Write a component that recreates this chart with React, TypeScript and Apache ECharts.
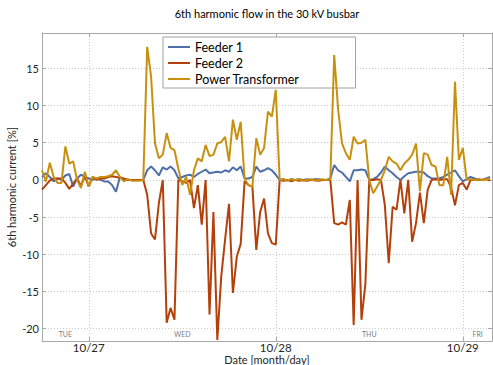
import React, { useEffect, useRef } from 'react';
import * as echarts from 'echarts';

// Hours relative to 10/27 00:00; samples every 30 minutes starting 10/26 18:00
const startHour = -6;
const stepHours = 0.5;

const feeder1 = [
  0.4, 0.9, 0.4, -0.2, 0.2, 0, 0.6, 0.8, -0.9, 0.2, 0.7, 0.4,
  0.2, 0, 0.2, 0, -0.2, -0.2, -0.7, -1.6, 0.4, 0.1, 0, 0,
  0, 0, 0, 1.3, 1.8, 1.3, 0.6, 1.7, 1.4, 1.8, 1.3, 0.2,
  0.4, 0.6, 0.7, 0.4, 0.8, 1.1, 1.4, 0.9, 1.0, 1.1, 1.0, 1.3,
  1.1, 1.7, 1.3, 1.8, 0.2, 0.2, 0.4, 1.8, 1.1, 1.3, 1.6, 1.3,
  0.7, 0, 0.1, -0.1, 0.1, 0, 0.1, 0, 0.1, 0, 0.1, 0.1,
  0, 0, 0.2, 2.0, 1.3, 1.0, 0.4, -0.2, 1.3, 1.3, 1.4, 1.3,
  0, 0.1, 0.4, 1.0, 1.8, 1.3, 0.9, 0.4, 0, 0.5, 0.9, 1.0,
  1.1, 1.1, 1.0, 0.5, 0.2, 0.2, 0.2, 0.4, 0.7, 1.0, 1.3, 0.5,
  -0.2, 0.1, 0.4, 0.2, 0, 0, 0.2, 0.4,
];

const feeder2 = [
  -1.3, -0.7, -0.1, 0.2, 0.2, 0.2, -0.4, -1.2, -0.5, 0.2, -0.8, 0.5,
  -0.9, 0.4, 0, 0.2, 0.2, 0.4, 0.5, 0.4, 0.3, 0.2, 0, 0,
  0, 0, 0, -2.0, -7.2, -8.0, -3.1, 0, -19.2, -17.2, -18.8, 0,
  -0.2, -0.4, 0, -3.8, -0.7, -6.0, 0, -18.1, -4.3, -21.5, -13, -8,
  -3.2, -15.2, -10.3, -8.6, -0.2, -0.7, -0.9, -9.4, -4.3, -2.5, -7.2, -8.5,
  -8.7, 0, -0.1, 0, -0.2, 0, -0.1, 0, -0.1, 0, 0, -0.1,
  0, 0, 0, -5.8, -6.0, -5.7, -6.0, -2.7, -19.5, 0, -18.8, -14,
  0, 0, 0.1, 0, -3.4, -11.2, -3.6, -4.0, 0, -4.5, 0, -8.3,
  -5.8, -1.7, -5.8, -1.3, 0, 0.1, 0, 0.1, 0.1, -1.0, -3.4, -0.7,
  -0.4, -1.3, 0, 0, 0.1, 0, 0.1, -0.1,
];

const transformer = [
  1.3, -0.2, 2.3, 0.4, -0.4, -0.4, 4.5, 2.2, 2.5, 0, -1.1, 1.1,
  -0.9, 0.4, 0.2, 0.4, 0.4, 0.5, 0.7, 1.3, 0.4, -0.2, 0.1, -0.1,
  -0.1, -0.1, 0, 17.9, 13.9, 4.9, 2.9, 3.4, 6.3, 4.3, 4.0, 1.5,
  -0.7, 0.4, -2.0, 1.3, 2.9, 2.5, 4.7, 3.2, 3.4, 4.9, 5.1, 5.8,
  2.5, 8.1, 5.4, 7.8, 0.2, -0.7, -0.9, 5.6, 3.4, 4.3, 9.2, 8.5,
  12.1, 0, 0.1, -0.1, 0.1, 0, 0.1, -0.1, 0, 0.1, -0.1, 0,
  0.1, 0, 0.1, 16.8, 9.5, 4.9, 3.6, 2.7, 5.8, 4.9, 5.0, 5.4,
  0, -1.8, -0.9, 0, 1.3, 3.1, 2.5, 2.2, 1.3, 2.2, 2.7, 3.4,
  4.9, -1.5, 3.6, 3.4, 2.0, 1.8, -0.7, -0.7, 3.1, -2.0, 13.2, 2.7,
  4.3, 0, 0.1, 0, 0.1, 0, 0.1, 0.2,
];

const seriesNames = ['Feeder 1', 'Feeder 2', 'Power Transformer'];
const seriesColors = ['#4f6fab', '#b4410c', '#c8900f'];

const dateTickHours = [0, 24, 48];
const dateTickLabels = ['10/27', '10/28', '10/29'];
const dayNames = ['TUE', 'WED', 'THU', 'FRI'];
const dayNameHours = [-3, 12, 36, 49.9];
const dayNameLevel = -20.75;
const yTicks = [-20, -15, -10, -5, 0, 5, 10, 15];

const xMin = -6;
const xMax = 51.75;
const yMin = -21.65;
const yMax = 19.75;

const FONT = 'Lato, "Liberation Sans", sans-serif';
const AXIS_COLOR = '#a8a8a8';
const GRID_COLOR = '#cccccc';
const TEXT_COLOR = '#262626';

export default function App() {
  const ref = useRef<HTMLDivElement>(null);

  useEffect(() => {
    if (!ref.current) return;
    const chart = echarts.init(ref.current, null, { renderer: 'svg' });
    const hours = feeder1.map((_, i) => startHour + i * stepHours);
    const toPairs = (vals: number[]) => vals.map((v, i) => [hours[i], v]);
    const seriesData = [feeder1, feeder2, transformer];

    const option: any = {
      animation: false,
      textStyle: { fontFamily: FONT },
      grid: { left: 42, top: 33, width: 450, height: 308, outerBoundsMode: 'none', containLabel: false },
      legend: {
        data: seriesNames,
        orient: 'vertical',
        left: 163,
        top: 37,
        padding: [3, 56, 2, 5],
        icon: 'rect',
        itemWidth: 22,
        itemHeight: 2,
        itemGap: 2,
        backgroundColor: '#ffffff',
        borderColor: '#a0a0a0',
        borderWidth: 1,
        textStyle: { fontSize: 12.5, lineHeight: 14, color: '#000', fontFamily: FONT },
      },
      xAxis: [
        {
          type: 'value',
          min: xMin,
          max: xMax,
          position: 'bottom',
          axisLine: { show: true, onZero: false, lineStyle: { color: AXIS_COLOR } },
          axisTick: {
            show: true,
            inside: true,
            length: 4,
            customValues: dateTickHours,
            lineStyle: { color: AXIS_COLOR },
          },
          axisLabel: {
            customValues: dateTickHours,
            formatter: (v: number) => {
              const k = dateTickHours.indexOf(v);
              return k >= 0 ? dateTickLabels[k] : '';
            },
            fontSize: 11.5,
            lineHeight: 11,
            color: TEXT_COLOR,
            margin: 1,
            fontFamily: FONT,
          },
          splitLine: { show: true, lineStyle: { type: [1, 2], color: GRID_COLOR } },
          name: 'Date [month/day]',
          nameLocation: 'middle',
          nameGap: 13,
          nameMoveOverlap: false,
          nameTextStyle: { fontSize: 11, lineHeight: 11, color: TEXT_COLOR, fontFamily: FONT },
        },
        {
          type: 'value',
          min: xMin,
          max: xMax,
          position: 'top',
          axisLine: { show: true, onZero: false, lineStyle: { color: AXIS_COLOR } },
          axisTick: {
            show: true,
            inside: true,
            length: 4,
            customValues: dateTickHours,
            lineStyle: { color: AXIS_COLOR },
          },
          axisLabel: { show: false },
          splitLine: { show: false },
          name: '6th harmonic flow in the 30 kV busbar',
          nameLocation: 'middle',
          nameGap: 14,
          nameMoveOverlap: false,
          nameTextStyle: { fontSize: 11, color: '#000', fontFamily: FONT },
        },
      ],
      yAxis: [
        {
          type: 'value',
          min: yMin,
          max: yMax,
          position: 'left',
          axisLine: { show: true, onZero: false, lineStyle: { color: AXIS_COLOR } },
          axisTick: {
            show: true,
            inside: true,
            length: 4,
            customValues: yTicks,
            lineStyle: { color: AXIS_COLOR },
          },
          axisLabel: {
            customValues: yTicks,
            fontSize: 11,
            color: TEXT_COLOR,
            margin: 3,
            fontFamily: FONT,
          },
          splitLine: { show: true, lineStyle: { type: [1, 2], color: GRID_COLOR } },
          name: '6th harmonic current [%]',
          nameLocation: 'middle',
          nameGap: 25,
          nameRotate: 90,
          nameMoveOverlap: false,
          nameTextStyle: { fontSize: 11, color: TEXT_COLOR, fontFamily: FONT },
        },
        {
          type: 'value',
          min: yMin,
          max: yMax,
          position: 'right',
          axisLine: { show: true, onZero: false, lineStyle: { color: AXIS_COLOR } },
          axisTick: {
            show: true,
            inside: true,
            length: 4,
            customValues: yTicks,
            lineStyle: { color: AXIS_COLOR },
          },
          axisLabel: { show: false },
          splitLine: { show: false },
        },
      ],
      series: [
        ...seriesNames.map((name, si) => ({
          name,
          type: 'line',
          data: toPairs(seriesData[si]),
          symbol: 'none',
          color: seriesColors[si],
          lineStyle: { width: 2, color: seriesColors[si] },
          z: 3 + si,
        })),
        {
          name: 'days',
          type: 'scatter',
          data: dayNames.map((n, i) => ({ name: n, value: [dayNameHours[i], dayNameLevel] })),
          symbolSize: 1,
          itemStyle: { color: 'rgba(255,255,255,0)' },
          label: {
            show: true,
            position: 'inside',
            formatter: '{b}',
            fontSize: 7,
            color: '#555555',
            textBorderWidth: 0,
            textBorderColor: 'transparent',
            fontFamily: FONT,
          },
          silent: true,
          z: 2,
        },
      ],
    };

    chart.setOption(option);
    return () => chart.dispose();
  }, []);

  return (
    <div
      ref={ref}
      style={{ position: 'fixed', left: 0, top: 0, width: 493, height: 365, background: '#fff' }}
    />
  );
}
